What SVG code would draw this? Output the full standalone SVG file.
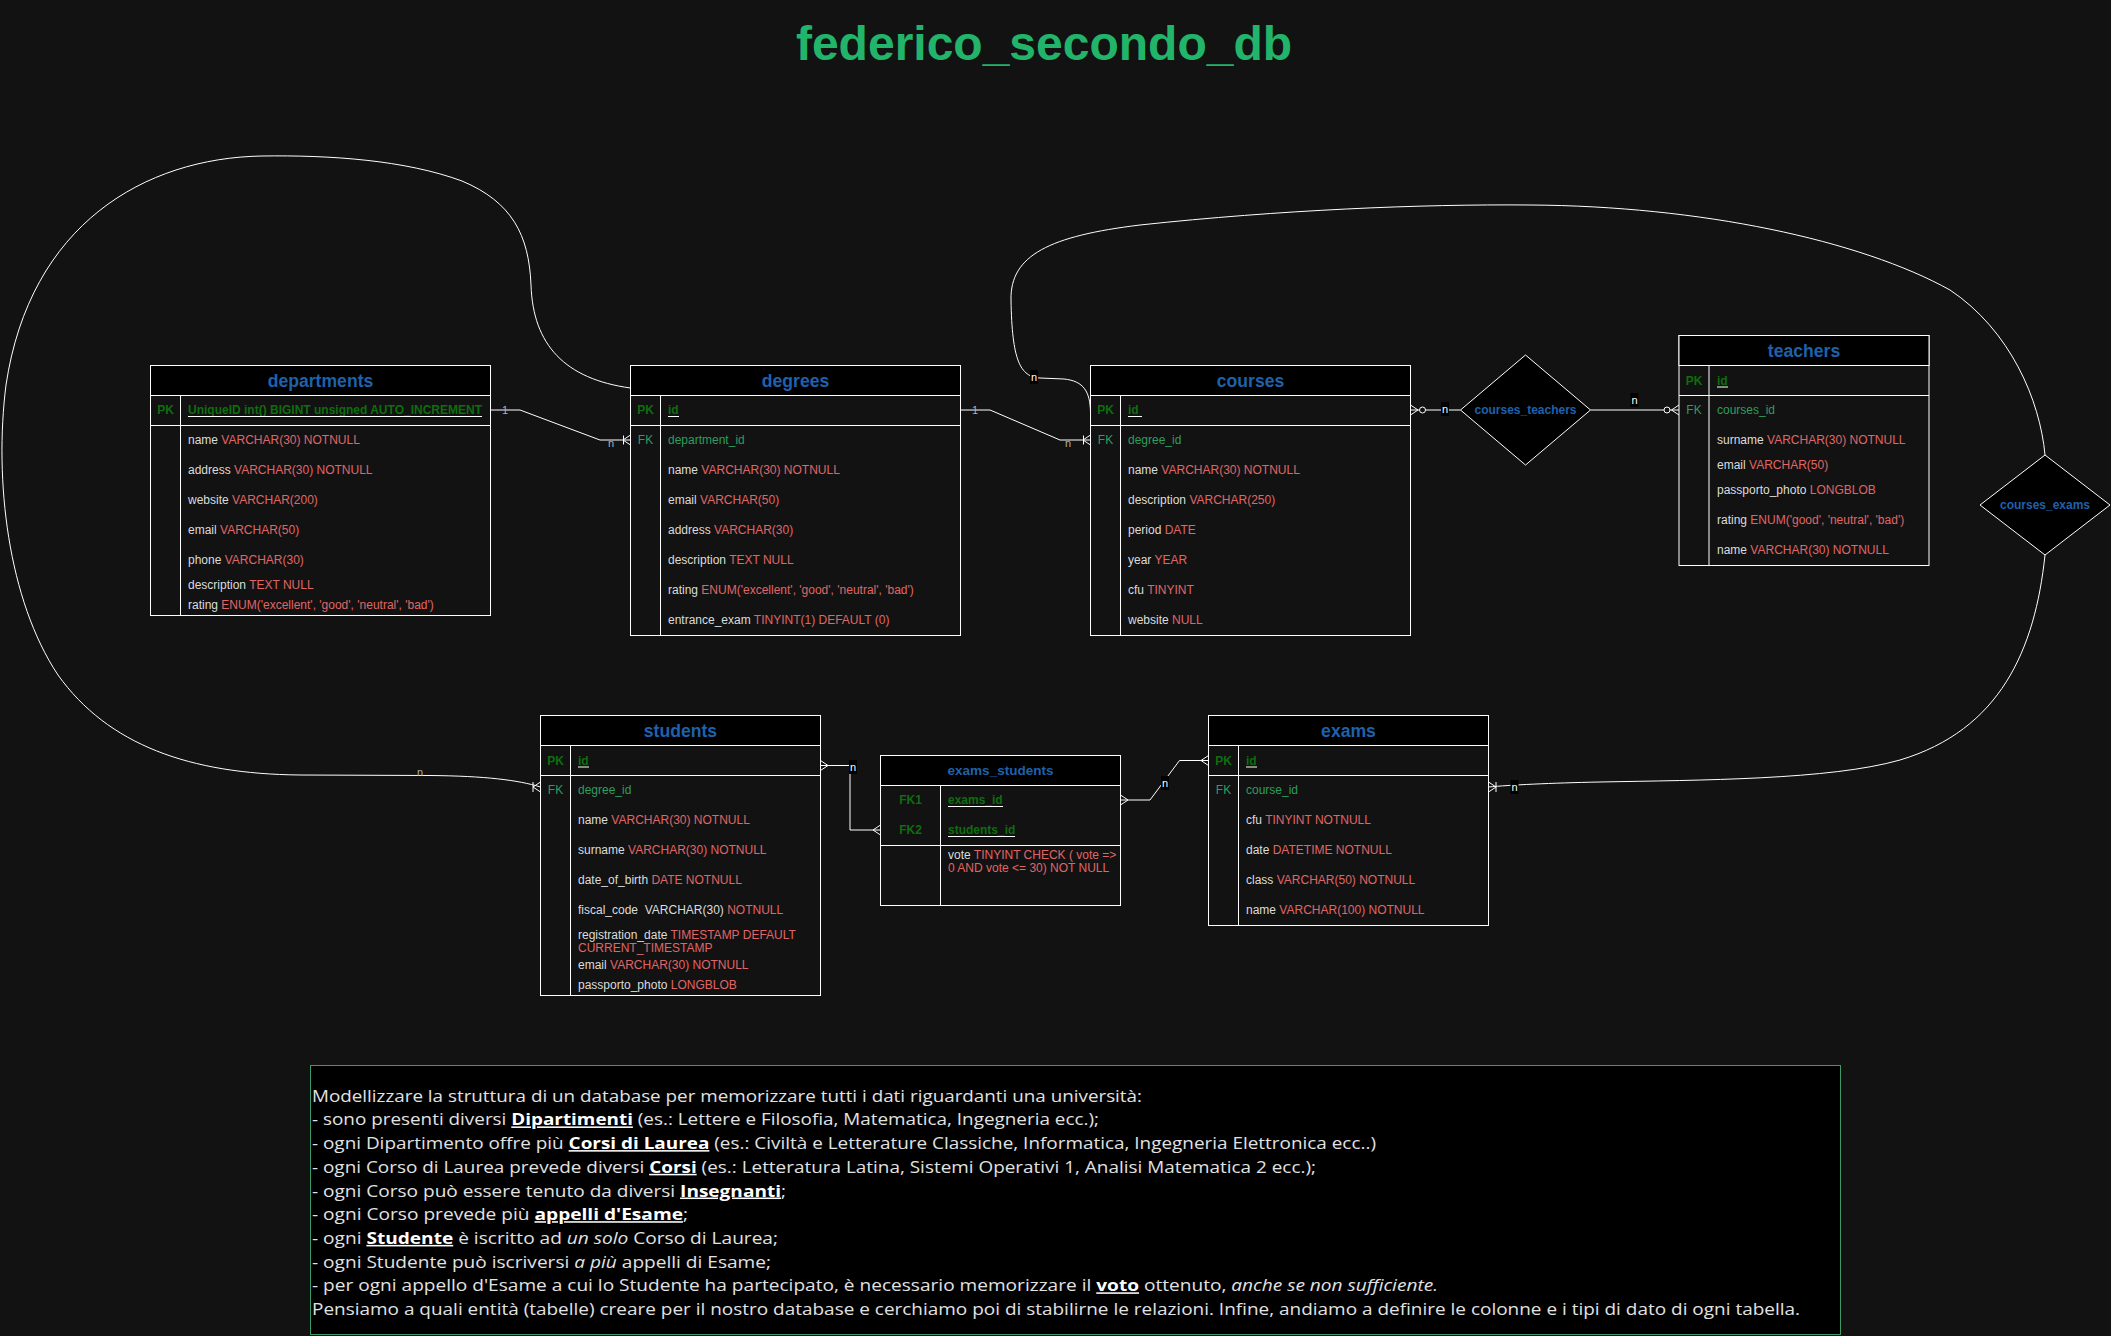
<svg xmlns="http://www.w3.org/2000/svg" width="2111" height="1336" viewBox="0 0 2111 1336">
<style>
.nm{font-family:"Liberation Sans",Arial,sans-serif;font-size:12px;fill:#dcdcdc}
.ty{fill:#e06666}
.ttl{font-family:"Liberation Sans",Arial,sans-serif;font-size:17.6px;font-weight:bold;fill:#1e62ad;text-anchor:middle}
.pk{font-family:"Liberation Sans",Arial,sans-serif;font-size:12px;font-weight:bold;fill:#0d6e0d;text-anchor:middle}
.fk{font-family:"Liberation Sans",Arial,sans-serif;font-size:12px;fill:#2c9e5e;text-anchor:middle}
.pkf{font-family:"Liberation Sans",Arial,sans-serif;font-size:12px;font-weight:bold;fill:#0d6e0d}
.fkf{font-family:"Liberation Sans",Arial,sans-serif;font-size:12px;fill:#2c9e5e}
.box{fill:#121212;stroke:#fff;stroke-width:1}
.hd{fill:#000;stroke:#fff;stroke-width:1}
.ln{stroke:#fff;stroke-width:1;fill:none}
.c{stroke:#fff;stroke-width:1;fill:none}
.lb{font-family:"Liberation Sans",Arial,sans-serif;font-size:11px;fill:#fff;text-anchor:middle}
.gl{font-family:"Liberation Sans",Arial,sans-serif;font-size:11px;fill:#b0b0b0;text-anchor:middle}
.lbg{fill:#000}
.dia{fill:#000;stroke:#fff;stroke-width:1}
.dl{font-family:"Liberation Sans",Arial,sans-serif;font-size:12px;font-weight:bold;fill:#1e62ad;text-anchor:middle}
.txt{font-family:"Open Sans","Noto Sans",sans-serif;font-size:15.5px;fill:#e2e2e2}
.b{font-weight:bold;fill:#fff;text-decoration:underline}
.i{font-style:italic}
</style>
<rect x="0" y="0" width="2111" height="1336" fill="#121212"/>
<text x="1044" y="60" text-anchor="middle" font-family="Liberation Sans, Arial, sans-serif" font-size="48" font-weight="bold" fill="#22b46a">federico_secondo_db</text>

<g id="connectors">
  <path class="c" d="M490.5,410 L520,410 L600,440 L630.5,440"/>
  <path class="c" d="M630.5,435 L623,440 L630.5,445 M623.5,435.5 L623.5,444.5"/>
  <text class="gl" x="505" y="414">1</text>
  <text class="gl" x="611" y="447">n</text>
  <path class="c" d="M960.5,410 L990,410 L1060,440 L1090.5,440"/>
  <path class="c" d="M1090.5,435 L1083,440 L1090.5,445 M1083.5,435.5 L1083.5,444.5"/>
  <text class="gl" x="975" y="414">1</text>
  <text class="gl" x="1068" y="447">n</text>
  <path class="c" d="M1410.5,410 L1460.5,410"/>
  <path class="c" d="M1410.5,405 L1418,410 L1410.5,415"/>
  <circle cx="1422.5" cy="410" r="3" fill="#121212" stroke="#fff"/>
  <rect class="lbg" x="1441" y="402" width="8" height="14"/>
  <text class="lb" x="1445" y="413">n</text>
  <path class="c" d="M1590.5,410 L1679,410"/>
  <path class="c" d="M1679,405 L1671.5,410 L1679,415"/>
  <circle cx="1667" cy="410" r="3" fill="#121212" stroke="#fff"/>
  <rect class="lbg" x="1630.5" y="393" width="8" height="14"/>
  <text class="lb" x="1634.5" y="404">n</text>
  <path class="c" d="M820.5,765.5 L850,765.5 L850,830 L880.5,830"/>
  <path class="c" d="M820.5,760.5 L828,765.5 L820.5,770.5"/>
  <path class="c" d="M880.5,825 L873,830 L880.5,835"/>
  <rect class="lbg" x="849" y="760" width="8" height="14"/>
  <text class="lb" x="853" y="771">n</text>
  <path class="c" d="M1120.5,800 L1150,800 L1179.5,760.5 L1208.5,760.5"/>
  <path class="c" d="M1120.5,795 L1128,800 L1120.5,805"/>
  <path class="c" d="M1208.5,755.5 L1201,760.5 L1208.5,765.5"/>
  <rect class="lbg" x="1161" y="776" width="8" height="14"/>
  <text class="lb" x="1165" y="787">n</text>
  <path class="c" d="M630.5,388 C565,379 533,345 531,285 C529,235 512,202 462,181 C405,160 330,155 262,156 C145,158 30,224 6,385 C-6,480 8,600 58,675 C108,745 190,774 300,775 L430,775.5 C485,776 518,780 540.5,787"/>
  <path class="c" d="M540.5,782 L533,787 L540.5,792 M533,782 L533,792"/>
  <text class="gl" x="420" y="776">n</text>
  <line class="c" x1="716.5" y1="396" x2="716.5" y2="400" stroke="#bbb"/>
  <path class="c" d="M1090.5,412 C1090,392 1084,381 1064,379 L1040,378 C1020,377 1012,360 1011,300 C1010,255 1050,236 1140,225 C1280,210 1420,204 1530,205 C1700,206 1860,240 1950,290 C2010,330 2040,400 2045,455"/>
  <rect class="lbg" x="1030" y="370" width="8" height="14"/>
  <text class="lb" x="1034" y="381">n</text>
  <path class="c" d="M2045,555 C2035,650 2000,730 1900,760 C1830,780 1700,780 1600,782 C1550,783 1510,785 1488.5,787"/>
  <path class="c" d="M1488.5,782 L1496,787 L1488.5,792 M1496,782 L1496,792"/>
  <rect class="lbg" x="1510.5" y="780" width="8" height="14"/>
  <text class="lb" x="1514.5" y="791">n</text>
</g>

<g id="departments">
  <rect class="box" x="150.5" y="365.5" width="340" height="250"/>
  <rect class="hd" x="150.5" y="365.5" width="340" height="30"/>
  <line class="ln" x1="150.5" y1="425.5" x2="490.5" y2="425.5"/>
  <line class="ln" x1="180.5" y1="395.5" x2="180.5" y2="615.5"/>
  <text class="ttl" x="320.5" y="387">departments</text>
  <text class="pk" x="165.5" y="414">PK</text>
  <text class="pkf" x="188" y="414">UniqueID int() BIGINT unsigned AUTO_INCREMENT</text>
  <line class="ln" x1="188" y1="416.5" x2="482" y2="416.5"/>
  <text class="nm" x="188" y="444">name <tspan class="ty">VARCHAR(30) NOTNULL</tspan></text>
  <text class="nm" x="188" y="474">address <tspan class="ty">VARCHAR(30) NOTNULL</tspan></text>
  <text class="nm" x="188" y="504">website <tspan class="ty">VARCHAR(200)</tspan></text>
  <text class="nm" x="188" y="534">email <tspan class="ty">VARCHAR(50)</tspan></text>
  <text class="nm" x="188" y="564">phone <tspan class="ty">VARCHAR(30)</tspan></text>
  <text class="nm" x="188" y="589">description <tspan class="ty">TEXT NULL</tspan></text>
  <text class="nm" x="188" y="609">rating <tspan class="ty">ENUM('excellent', 'good', 'neutral', 'bad')</tspan></text>
</g>

<g id="degrees">
  <rect class="box" x="630.5" y="365.5" width="330" height="270"/>
  <rect class="hd" x="630.5" y="365.5" width="330" height="30"/>
  <line class="ln" x1="630.5" y1="425.5" x2="960.5" y2="425.5"/>
  <line class="ln" x1="660.5" y1="395.5" x2="660.5" y2="635.5"/>
  <text class="ttl" x="795.5" y="387">degrees</text>
  <text class="pk" x="645.5" y="414">PK</text>
  <text class="pkf" x="668" y="414">id</text>
  <line class="ln" x1="668" y1="416.5" x2="679" y2="416.5"/>
  <text class="fk" x="645.5" y="444">FK</text>
  <text class="fkf" x="668" y="444">department_id</text>
  <text class="nm" x="668" y="474">name <tspan class="ty">VARCHAR(30) NOTNULL</tspan></text>
  <text class="nm" x="668" y="504">email <tspan class="ty">VARCHAR(50)</tspan></text>
  <text class="nm" x="668" y="534">address <tspan class="ty">VARCHAR(30)</tspan></text>
  <text class="nm" x="668" y="564">description <tspan class="ty">TEXT NULL</tspan></text>
  <text class="nm" x="668" y="594">rating <tspan class="ty">ENUM('excellent', 'good', 'neutral', 'bad')</tspan></text>
  <text class="nm" x="668" y="624">entrance_exam <tspan class="ty">TINYINT(1) DEFAULT (0)</tspan></text>
</g>

<g id="courses">
  <rect class="box" x="1090.5" y="365.5" width="320" height="270"/>
  <rect class="hd" x="1090.5" y="365.5" width="320" height="30"/>
  <line class="ln" x1="1090.5" y1="425.5" x2="1410.5" y2="425.5"/>
  <line class="ln" x1="1120.5" y1="395.5" x2="1120.5" y2="635.5"/>
  <text class="ttl" x="1250.5" y="387">courses</text>
  <text class="pk" x="1105.5" y="414">PK</text>
  <text class="pkf" x="1128" y="414">id</text>
  <line class="ln" x1="1128" y1="416.5" x2="1142" y2="416.5"/>
  <text class="fk" x="1105.5" y="444">FK</text>
  <text class="fkf" x="1128" y="444">degree_id</text>
  <text class="nm" x="1128" y="474">name <tspan class="ty">VARCHAR(30) NOTNULL</tspan></text>
  <text class="nm" x="1128" y="504">description <tspan class="ty">VARCHAR(250)</tspan></text>
  <text class="nm" x="1128" y="534">period <tspan class="ty">DATE</tspan></text>
  <text class="nm" x="1128" y="564">year <tspan class="ty">YEAR</tspan></text>
  <text class="nm" x="1128" y="594">cfu <tspan class="ty">TINYINT</tspan></text>
  <text class="nm" x="1128" y="624">website <tspan class="ty">NULL</tspan></text>
</g>

<g id="courses_teachers">
  <polygon class="dia" points="1460.5,410 1525.5,355 1590.5,410 1525.5,465"/>
  <text class="dl" x="1525.5" y="414">courses_teachers</text>
</g>

<g id="teachers">
  <rect class="box" x="1679" y="335.5" width="250" height="230"/>
  <rect class="hd" x="1679" y="335.5" width="250" height="30"/>
  <line class="ln" x1="1679" y1="395.5" x2="1929" y2="395.5"/>
  <line class="ln" x1="1709" y1="365.5" x2="1709" y2="565.5"/>
  <text class="ttl" x="1804" y="357">teachers</text>
  <text class="pk" x="1694" y="384.5">PK</text>
  <text class="pkf" x="1717" y="384.5">id</text>
  <line class="ln" x1="1717" y1="387" x2="1728" y2="387"/>
  <text class="fk" x="1694" y="414">FK</text>
  <text class="fkf" x="1717" y="414">courses_id</text>
  <text class="nm" x="1717" y="444">surname <tspan class="ty">VARCHAR(30) NOTNULL</tspan></text>
  <text class="nm" x="1717" y="469">email <tspan class="ty">VARCHAR(50)</tspan></text>
  <text class="nm" x="1717" y="494">passporto_photo <tspan class="ty">LONGBLOB</tspan></text>
  <text class="nm" x="1717" y="524">rating <tspan class="ty">ENUM('good', 'neutral', 'bad')</tspan></text>
  <text class="nm" x="1717" y="554">name <tspan class="ty">VARCHAR(30) NOTNULL</tspan></text>
</g>

<g id="courses_exams">
  <polygon class="dia" points="1980,505 2045,455 2110,505 2045,555"/>
  <text class="dl" x="2045" y="509">courses_exams</text>
</g>

<g id="students">
  <rect class="box" x="540.5" y="715.5" width="280" height="280"/>
  <rect class="hd" x="540.5" y="715.5" width="280" height="30"/>
  <line class="ln" x1="540.5" y1="775.5" x2="820.5" y2="775.5"/>
  <line class="ln" x1="570.5" y1="745.5" x2="570.5" y2="995.5"/>
  <text class="ttl" x="680.5" y="737">students</text>
  <text class="pk" x="555.5" y="764.5">PK</text>
  <text class="pkf" x="578" y="764.5">id</text>
  <line class="ln" x1="578" y1="767" x2="589" y2="767"/>
  <text class="fk" x="555.5" y="794">FK</text>
  <text class="fkf" x="578" y="794">degree_id</text>
  <text class="nm" x="578" y="824">name <tspan class="ty">VARCHAR(30) NOTNULL</tspan></text>
  <text class="nm" x="578" y="854">surname <tspan class="ty">VARCHAR(30) NOTNULL</tspan></text>
  <text class="nm" x="578" y="884">date_of_birth <tspan class="ty">DATE NOTNULL</tspan></text>
  <text class="nm" x="578" y="914" xml:space="preserve">fiscal_code  VARCHAR(30) <tspan class="ty">NOTNULL</tspan></text>
  <text class="nm" x="578" y="939">registration_date <tspan class="ty">TIMESTAMP DEFAULT</tspan></text>
  <text class="nm ty" x="578" y="952">CURRENT_TIMESTAMP</text>
  <text class="nm" x="578" y="969">email <tspan class="ty">VARCHAR(30) NOTNULL</tspan></text>
  <text class="nm" x="578" y="989">passporto_photo <tspan class="ty">LONGBLOB</tspan></text>
</g>

<g id="exams_students">
  <rect class="box" x="880.5" y="755.5" width="240" height="150"/>
  <rect class="hd" x="880.5" y="755.5" width="240" height="30"/>
  <line class="ln" x1="880.5" y1="845.5" x2="1120.5" y2="845.5"/>
  <line class="ln" x1="940.5" y1="785.5" x2="940.5" y2="905.5"/>
  <text class="ttl" x="1000.5" y="775" style="font-size:13.5px">exams_students</text>
  <text class="pk" x="910.5" y="804">FK1</text>
  <text class="pkf" x="948" y="804">exams_id</text>
  <line class="ln" x1="948" y1="806.5" x2="1003" y2="806.5"/>
  <text class="pk" x="910.5" y="834">FK2</text>
  <text class="pkf" x="948" y="834">students_id</text>
  <line class="ln" x1="948" y1="836.5" x2="1015" y2="836.5"/>
  <text class="nm" x="948" y="859">vote <tspan class="ty">TINYINT CHECK ( vote =&gt;</tspan></text>
  <text class="nm ty" x="948" y="872">0 AND vote &lt;= 30) NOT NULL</text>
</g>

<g id="exams">
  <rect class="box" x="1208.5" y="715.5" width="280" height="210"/>
  <rect class="hd" x="1208.5" y="715.5" width="280" height="30"/>
  <line class="ln" x1="1208.5" y1="775.5" x2="1488.5" y2="775.5"/>
  <line class="ln" x1="1238.5" y1="745.5" x2="1238.5" y2="925.5"/>
  <text class="ttl" x="1348.5" y="737">exams</text>
  <text class="pk" x="1223.5" y="764.5">PK</text>
  <text class="pkf" x="1246" y="764.5">id</text>
  <line class="ln" x1="1246" y1="767" x2="1257" y2="767"/>
  <text class="fk" x="1223.5" y="794">FK</text>
  <text class="fkf" x="1246" y="794">course_id</text>
  <text class="nm" x="1246" y="824">cfu <tspan class="ty">TINYINT NOTNULL</tspan></text>
  <text class="nm" x="1246" y="854">date <tspan class="ty">DATETIME NOTNULL</tspan></text>
  <text class="nm" x="1246" y="884">class <tspan class="ty">VARCHAR(50) NOTNULL</tspan></text>
  <text class="nm" x="1246" y="914">name <tspan class="ty">VARCHAR(100) NOTNULL</tspan></text>
</g>

<g id="assignment">
  <rect x="310.5" y="1065.5" width="1530" height="269" fill="#000" stroke="#3c9a6a" stroke-width="1"/>
  <text class="txt" x="312" y="1101.7" textLength="830" lengthAdjust="spacingAndGlyphs">Modellizzare la struttura di un database per memorizzare tutti i dati riguardanti una università:</text>
  <text class="txt" x="312" y="1125.4" textLength="787" lengthAdjust="spacingAndGlyphs">- sono presenti diversi <tspan class="b">Dipartimenti</tspan> (es.: Lettere e Filosofia, Matematica, Ingegneria ecc.);</text>
  <text class="txt" x="312" y="1149.1" textLength="1064" lengthAdjust="spacingAndGlyphs">- ogni Dipartimento offre più <tspan class="b">Corsi di Laurea</tspan> (es.: Civiltà e Letterature Classiche, Informatica, Ingegneria Elettronica ecc..)</text>
  <text class="txt" x="312" y="1172.8" textLength="1004" lengthAdjust="spacingAndGlyphs">- ogni Corso di Laurea prevede diversi <tspan class="b">Corsi</tspan> (es.: Letteratura Latina, Sistemi Operativi 1, Analisi Matematica 2 ecc.);</text>
  <text class="txt" x="312" y="1196.5" textLength="474" lengthAdjust="spacingAndGlyphs">- ogni Corso può essere tenuto da diversi <tspan class="b">Insegnanti</tspan>;</text>
  <text class="txt" x="312" y="1220.2" textLength="376" lengthAdjust="spacingAndGlyphs">- ogni Corso prevede più <tspan class="b">appelli d'Esame</tspan>;</text>
  <text class="txt" x="312" y="1243.9" textLength="466" lengthAdjust="spacingAndGlyphs">- ogni <tspan class="b">Studente</tspan> è iscritto ad <tspan class="i">un solo</tspan> Corso di Laurea;</text>
  <text class="txt" x="312" y="1267.6" textLength="459" lengthAdjust="spacingAndGlyphs">- ogni Studente può iscriversi <tspan class="i">a più</tspan> appelli di Esame;</text>
  <text class="txt" x="312" y="1291.3" textLength="1126" lengthAdjust="spacingAndGlyphs">- per ogni appello d'Esame a cui lo Studente ha partecipato, è necessario memorizzare il <tspan class="b">voto</tspan> ottenuto, <tspan class="i">anche se non sufficiente.</tspan></text>
  <text class="txt" x="312" y="1315" textLength="1488" lengthAdjust="spacingAndGlyphs">Pensiamo a quali entità (tabelle) creare per il nostro database e cerchiamo poi di stabilirne le relazioni. Infine, andiamo a definire le colonne e i tipi di dato di ogni tabella.</text>
</g>
</svg>
